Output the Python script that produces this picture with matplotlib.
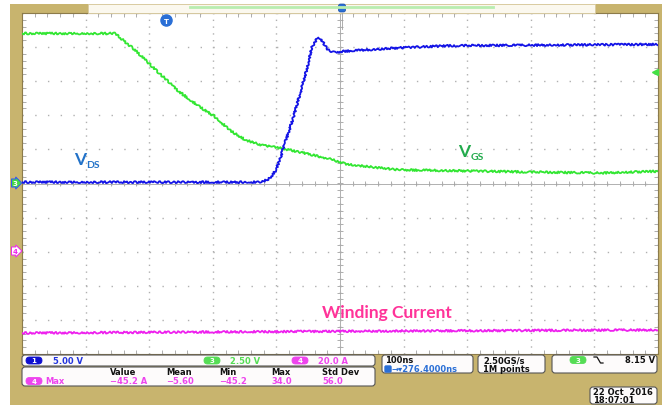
import matplotlib.pyplot as plt
import numpy as np
from matplotlib.patches import Rectangle, FancyBboxPatch
from matplotlib.ticker import MultipleLocator

plt.rcParams['lines.scale_dashes'] = False

# --- datos (tiempo en ns, 100 ns/div) ---
t_vgs = [0, 60, 146, 175, 212, 248, 280, 302, 327, 351, 377, 406, 437, 484, 508, 531, 594, 704, 799, 909, 1000]
vgs = [11.0, 11.0, 11.0, 9.9, 8.25, 6.7, 5.6, 4.95, 3.9, 3.2, 2.8, 2.6, 2.3, 1.8, 1.45, 1.3, 1.0, 0.92, 0.84, 0.77, 0.9]

t_vds = [0, 377, 390, 398, 406, 413, 426, 437, 447, 456, 464, 470, 476, 483, 492, 508, 594, 673, 830, 1000]
vds = [0.2, 0.2, 0.8, 1.8, 3.6, 5.8, 9.5, 13.1, 16.5, 20.0, 21.3, 21.2, 20.3, 19.4, 19.2, 19.4, 19.9, 20.2, 20.3, 20.4]

t_iw = [0, 280, 594, 1000]
iw = [-48.1, -47.5, -46.9, -46.3]

# escalas por canal (unidad/div) y offset (div)
esc_vds, esc_vgs, esc_iw = 5.0, 2.5, 20.0
off_iw = -1.98

# textos de la barra de estado
medidas_hdr = ['Value', 'Mean', 'Min', 'Max', 'Std Dev']
medidas_val = ['\u221245.2 A', '\u22125.60', '\u221245.2', '34.0', '56.0']
medidas_x = [110, 166, 219, 271, 322]

TAN = '#c8b46e'
AZUL, VERDE, ROSA = '#1414e6', '#33e633', '#ee22ee'

fig = plt.figure(figsize=(6.66, 4.06), dpi=100)

# fondo (marco color tostado)
bg = fig.add_axes([0, 0, 1, 1], zorder=0)
bg.set_xlim(0, 666)
bg.set_ylim(406, 0)
bg.axis('off')
bg.add_patch(Rectangle((10, 5), 652, 401, fc=TAN, ec='none'))

# --- area de la pantalla ---
ax = fig.add_axes([22 / 666, (406 - 355) / 406, 636 / 666, 341 / 406], zorder=1)
ax.set_facecolor('white')
ax.set_xlim(0, 1000)
ax.set_ylim(-5, 5)
ax.xaxis.set_major_locator(MultipleLocator(100))
ax.yaxis.set_major_locator(MultipleLocator(1))
ax.xaxis.set_minor_locator(MultipleLocator(20))
ax.yaxis.set_minor_locator(MultipleLocator(0.2))
ax.tick_params(which='both', direction='in', top=True, right=True,
               labelbottom=False, labelleft=False, color='#a0a0a0')
ax.tick_params(which='major', length=0)
ax.tick_params(which='minor', length=3, width=0.6)
ax.xaxis.grid(True, which='major', color='#b0b0b0', lw=1.0, linestyle=(0, (1, 3.9)))
ax.yaxis.grid(True, which='major', color='#b0b0b0', lw=1.0, linestyle=(0, (1, 8.16)))
for s in ax.spines.values():
    s.set_color('#8c7b4a')
    s.set_linewidth(0.8)

# cruz central con marcas
ax.axhline(0, color='#b0b0b0', lw=0.7, zorder=1)
ax.axvline(500, color='#b0b0b0', lw=0.7, zorder=1)
mx = np.arange(0, 1001, 20)
my = np.arange(-5, 5.01, 0.2)
ax.vlines(mx, -0.08, 0.08, color='#a0a0a0', lw=0.6, zorder=1)
ax.hlines(my, 495, 505, color='#a0a0a0', lw=0.6, zorder=1)

# trazas
l_iw, = ax.plot(t_iw, np.array(iw) / esc_iw + off_iw, color=ROSA, lw=1.3, zorder=3)
l_vgs, = ax.plot(t_vgs, np.array(vgs) / esc_vgs, color=VERDE, lw=1.3, zorder=4)
l_vds, = ax.plot(t_vds, np.array(vds) / esc_vds, color=AZUL, lw=1.3, zorder=5)
for l in (l_iw, l_vgs, l_vds):
    l.set_sketch_params(scale=1.0, length=4, randomness=3)

# etiquetas
ax.text(82, 0.57, 'V', color='#2272c8', fontsize=12.5, fontweight='bold', family='Lato')
ax.text(101, 0.47, 'DS', color='#2272c8', fontsize=7.5, fontweight='bold', family='Lato')
ax.text(686, 0.81, 'V', color='#22aa4c', fontsize=12.5, fontweight='bold', family='Lato')
ax.text(706, 0.71, 'GS', color='#22aa4c', fontsize=7.5, fontweight='bold', family='Lato')
ax.text(472, -3.91, 'Winding Current', color='#ff3399', fontsize=12.5, fontweight='bold', family='Lato')

# --- capa superior: marcadores y barra de estado ---
ov = fig.add_axes([0, 0, 1, 1], zorder=3)
ov.set_xlim(0, 666)
ov.set_ylim(406, 0)
ov.axis('off')
ov.patch.set_alpha(0)

# barra superior
ov.add_patch(Rectangle((88, 5), 507, 9, fc='#fbf8ee', ec='#d9cba0', lw=0.6))
ov.plot([190, 493], [8, 8], color='#b8edb0', lw=2)
ov.add_patch(FancyBboxPatch((338.5, 5), 7, 8, boxstyle='round,pad=0,rounding_size=2',
                            fc='#2a6fd6', ec='#1a4fa6', lw=0.5))
ov.plot([342, 342], [14, 30], color='#a0a0a0', lw=0.6)
ov.plot(166, 21, 'o', ms=8, color='#2a6fd6')
ov.text(166, 21.5, 'T', color='white', fontsize=5, fontweight='bold', ha='center', va='center')

# marcadores de nivel izquierdo y disparo derecho
ov.text(15, 184, '3', fontsize=5, color='white', fontweight='bold', ha='center', va='center',
        bbox=dict(boxstyle='rarrow,pad=0.15', fc='#44d844', ec='#3050ff', lw=0.7))
ov.text(15, 252, '4', fontsize=5, color=ROSA, fontweight='bold', ha='center', va='center',
        bbox=dict(boxstyle='rarrow,pad=0.15', fc='white', ec=ROSA, lw=0.7))
ov.plot(655, 73, marker='<', ms=5, color='#44e044')


def caja(x0, y0, x1, y1):
    ov.add_patch(FancyBboxPatch((x0, y0), x1 - x0, y1 - y0,
                                boxstyle='round,pad=0,rounding_size=3',
                                fc='#fdfbfb', ec='#555555', lw=0.8))


def pastilla(xc, yc, txt, fc, tc='white', ec=None):
    ov.add_patch(FancyBboxPatch((xc - 8, yc - 3.5), 16, 7,
                                boxstyle='round,pad=0,rounding_size=3.5',
                                fc=fc, ec=ec or fc, lw=0.6))
    ov.text(xc, yc, txt, color=tc, fontsize=5, fontweight='bold', ha='center', va='center')


def t(x, y, s, c='#111111', ha='left'):
    ov.text(x, y, s, color=c, fontsize=6, fontweight='bold', ha=ha, va='center',
            family='DejaVu Sans')


caja(22, 356, 375, 367)
pastilla(34, 361.5, '1', '#1010d0')
t(53, 361.5, '5.00 V', '#2233dd')
pastilla(212, 361.5, '3', '#55dd55')
t(230, 361.5, '2.50 V', '#55dd55')
pastilla(300, 361.5, '4', '#ee44ee')
t(318, 361.5, '20.0 A', '#ee44ee')

caja(22, 368, 375, 387)
pastilla(34, 382, '4', '#ee44ee')
t(45, 382, 'Max', '#ee44ee')
for x, h, v in zip(medidas_x, medidas_hdr, medidas_val):
    t(x, 373, h)
    t(x, 382, v, '#ee44ee')

caja(382, 356, 473, 374)
t(385, 361, '100ns')
ov.add_patch(FancyBboxPatch((385, 367), 6, 6, boxstyle='round,pad=0,rounding_size=1',
                            fc='#2a6fd6', ec='#2a6fd6'))
t(392, 370, '\u2192\u25be276.4000ns', '#2a6fd6')

caja(478, 356, 545, 374)
t(483, 361, '2.50GS/s')
t(483, 370, '1M points')

caja(552, 356, 657, 374)
pastilla(578, 361, '3', '#55dd55')
ov.plot([594, 597, 600.5, 603], [358, 358, 364, 364], color='#111111', lw=0.9)
t(655, 361, '8.15 V', ha='right')

caja(590, 388, 657, 405)
t(593, 393, '22 Oct  2016')
t(593, 401, '18:07:01')

plt.savefig('out.png', dpi=100)
plt.close()
